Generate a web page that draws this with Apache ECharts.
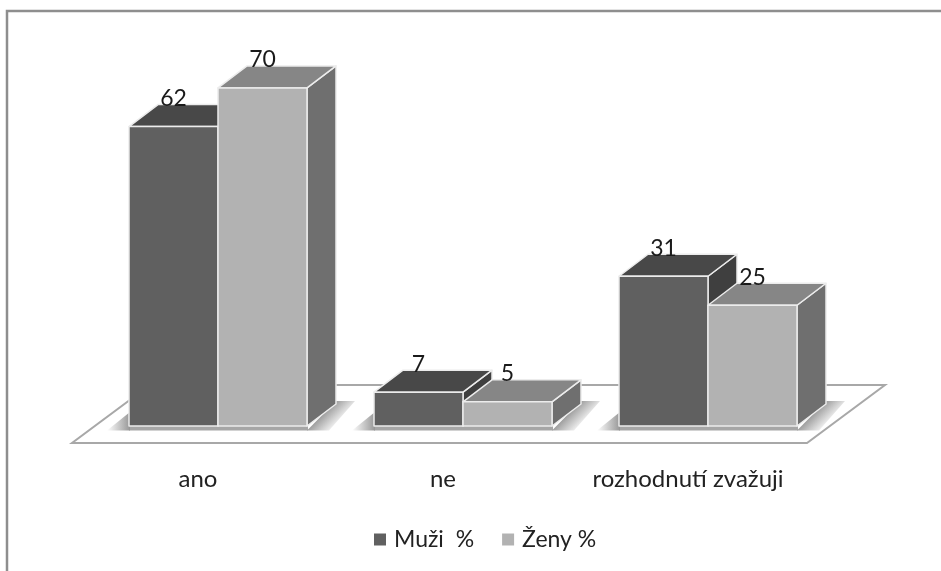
<!DOCTYPE html>
<html>
<head>
<meta charset="utf-8">
<style>
  html, body { margin: 0; padding: 0; background: #fff; }
  #chart { width: 941px; height: 571px; }
</style>
</head>
<body>
<div id="chart"></div>
<script src="https://cdn.jsdelivr.net/npm/echarts@6/dist/echarts.min.js"></script>
<script>
const categories = ['ano', 'ne', 'rozhodnutí zvažuji'];
const muzi = [62, 7, 31];
const zeny = [70, 5, 25];

const font = 'Lato';
const depthX = 29;
const depthY = 22;
const edge = '#ececec';
const shade = 'rgba(150,150,150,0.95)';
const shadeOff = 'rgba(150,150,150,0)';

function poly(points, fill) {
  return { type: 'polygon', shape: { points: points }, style: { fill: fill, stroke: edge, lineWidth: 1.5, lineJoin: 'round' } };
}

// one 3D bar; side is -1 for the left bar in a category, 0 for the right one
function barItem(side, colors) {
  return function (params, api) {
    const base = api.coord([api.value(0), 0]);
    const top = api.coord([api.value(0), api.value(1)]);
    const w = api.size([1, 0])[0] * 0.3633;
    const l = base[0] + side * w;
    const r = l + w;
    return {
      type: 'group',
      children: [
        poly([[r, top[1]], [r + depthX, top[1] - depthY], [r + depthX, base[1] - depthY], [r, base[1]]], colors[2]),
        poly([[l, top[1]], [l + depthX, top[1] - depthY], [r + depthX, top[1] - depthY], [r, top[1]]], colors[1]),
        poly([[l, top[1]], [r, top[1]], [r, base[1]], [l, base[1]]], colors[0]),
        {
          type: 'text',
          z2: 10,
          style: {
            x: (l + r) / 2, y: top[1] - 28, text: String(api.value(1)),
            align: 'center', verticalAlign: 'middle',
            fill: '#1a1a1a', font: '23px ' + font
          }
        }
      ]
    };
  };
}

// floor plate (first item only) and the soft shadow round each bar pair
function floorItem(params, api) {
  const c = api.coord([api.value(0), 0]);
  const band = api.size([1, 0])[0];
  const w = band * 0.3633;
  const b = c[1];
  const children = [];
  if (params.dataIndex === 0) {
    const x0 = c[0] - band / 2 - 23.5;
    const x1 = x0 + band * categories.length;
    const y = b + 17;
    children.push({
      type: 'polygon',
      shape: { points: [[x0, y], [x1, y], [x1 + 78, y - 58], [x0 + 78, y - 58]] },
      style: { fill: '#fff', stroke: '#a8a8a8', lineWidth: 2 }
    });
  }
  const l = c[0] - w;
  const r = c[0] + w;
  // band under the front edge
  children.push({
    type: 'rect',
    shape: { x: l, y: b, width: r - l + 1, height: 4.5 },
    style: { fill: '#a6a6a6' }
  });
  // left fade
  children.push({
    type: 'polygon',
    shape: { points: [[l + 1, b + 4.5], [l - 22, b + 4.5], [l + 1, b - 14]] },
    style: {
      fill: new echarts.graphic.LinearGradient(l - 22, 0, l, 0, [
        { offset: 0, color: shadeOff },
        { offset: 1, color: shade }
      ], true)
    }
  });
  // fade along the right side
  const mx = r + depthX / 2;
  const my = b - depthY / 2;
  children.push({
    type: 'polygon',
    shape: { points: [[r, b + 4.5], [r + depthX, b - 25], [r + 48, b - 25], [r + 22, b + 4.5]] },
    style: {
      fill: new echarts.graphic.LinearGradient(mx, my, mx + 14, my + 14, [
        { offset: 0, color: shade },
        { offset: 1, color: shadeOff }
      ], true)
    }
  });
  return { type: 'group', children: children };
}

const myChart = echarts.init(document.getElementById('chart'));
myChart.setOption({
  animation: false,
  backgroundColor: '#fff',
  grid: { left: 95.5, top: 39.6, width: 735, height: 386.4 },
  xAxis: {
    type: 'category',
    data: categories,
    axisLine: { show: false },
    axisTick: { show: false },
    axisLabel: { margin: 41, color: '#222', fontFamily: font, fontSize: 24, interval: 0, padding: [0, 40, 0, 0] }
  },
  yAxis: { type: 'value', min: 0, max: 80, show: false },
  legend: {
    data: ['Muži  %', 'Ženy %'],
    left: 369,
    top: 523,
    icon: 'rect',
    itemWidth: 12,
    itemHeight: 12,
    itemGap: 28,
    textStyle: { color: '#222', fontFamily: font, fontSize: 23, padding: [0, 0, 0, 3] }
  },
  graphic: [{
    type: 'polyline',
    silent: true,
    shape: { points: [[7, 571], [7, 11], [941, 11]] },
    style: { stroke: '#8e8e8e', lineWidth: 2.5, fill: null }
  }],
  series: [
    {
      name: 'floor',
      type: 'custom',
      silent: true,
      z: 1,
      clip: false,
      data: categories.map((c, i) => [i]),
      encode: { x: 0 },
      renderItem: floorItem
    },
    {
      name: 'Muži  %',
      type: 'custom',
      z: 2,
      itemStyle: { color: '#606060' },
      data: muzi.map((v, i) => [i, v]),
      encode: { x: 0, y: 1 },
      renderItem: barItem(-1, ['#606060', '#484848', '#3f3f3f'])
    },
    {
      name: 'Ženy %',
      type: 'custom',
      z: 3,
      itemStyle: { color: '#b2b2b2' },
      data: zeny.map((v, i) => [i, v]),
      encode: { x: 0, y: 1 },
      renderItem: barItem(0, ['#b2b2b2', '#868686', '#6f6f6f'])
    }
  ]
});
</script>
</body>
</html>
